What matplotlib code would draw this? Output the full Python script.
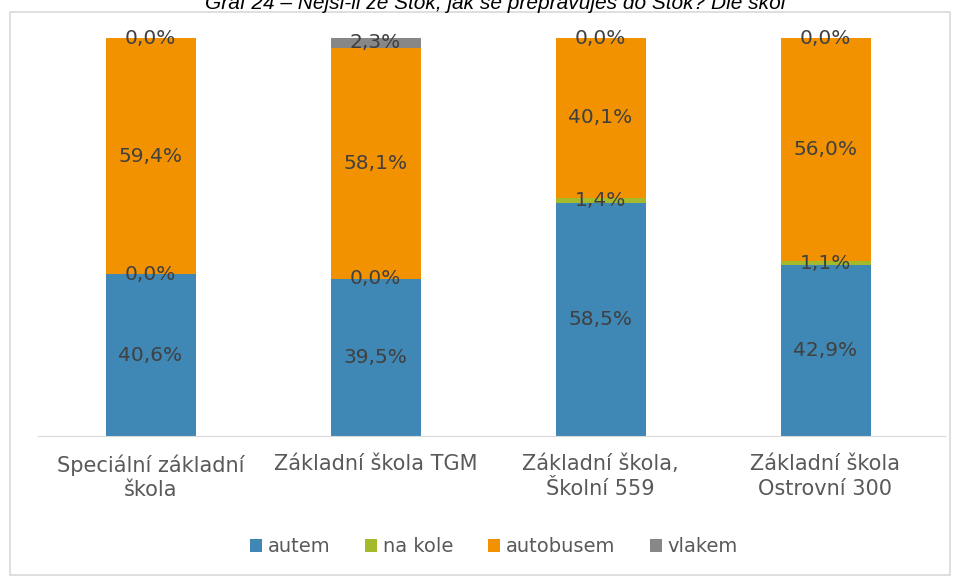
import matplotlib
matplotlib.use("Agg")
import matplotlib.pyplot as plt
from matplotlib.patches import Rectangle
import numpy as np

categories = ["Speciální základní\nškola", "Základní škola TGM", "Základní škola,\nŠkolní 559", "Základní škola\nOstrovní 300"]
series = ["autem", "na kole", "autobusem", "vlakem"]
autem = [40.6, 39.5, 58.5, 42.9]
na_kole = [0.0, 0.0, 1.4, 1.1]
autobusem = [59.4, 58.1, 40.1, 56.0]
vlakem = [0.0, 2.3, 0.0, 0.0]
colors = ["#3F87B4", "#A5BA2A", "#F39200", "#878787"]
title = "Graf 24 – Nejsi-li ze Štok, jak se přepravuješ do Štok? Dle škol"

W, H = 956, 576
fig = plt.figure(figsize=(W/100, H/100), dpi=100)
fig.patch.set_facecolor("white")
ax = fig.add_axes([38/W, 1-436/H, 900/W, 398/H])

fig.patches.append(Rectangle((10/W, 1/H), 940/W, (H-13)/H, transform=fig.transFigure,
                             fill=False, edgecolor="#D9D9D9", linewidth=1.2))

x = np.arange(len(categories))
vals = [autem, na_kole, autobusem, vlakem]
bottom = np.zeros(len(categories))
for name, v, c in zip(series, vals, colors):
    v = np.array(v)
    ax.bar(x, v, 0.4, bottom=bottom, color=c, label=name, zorder=2)
    for xi, b, val in zip(x, bottom, v):
        ax.text(xi, b + val/2, f"{val:.1f}%".replace(".", ","), ha="center", va="center",
                fontsize=14.5, color="#404040", zorder=3)
    bottom += v

ax.set_xlim(-0.5, 3.5)
ax.set_ylim(0, 100)
ax.set_yticks([])
ax.set_xticks(x)
ax.set_xticklabels(categories, fontsize=15, color="#595959", linespacing=1.3)
ax.tick_params(axis="x", length=0, pad=13)
for s in ["top", "right", "left"]:
    ax.spines[s].set_visible(False)
ax.spines["bottom"].set_color("#D9D9D9")
ax.spines["bottom"].set_bounds(-0.5, 3.53)

leg = fig.legend(loc="center", bbox_to_anchor=(494/W, 1-547/H), ncol=4, frameon=False,
                 fontsize=14, handlelength=0.6, handleheight=0.6, handletextpad=0.3,
                 columnspacing=1.8)
for t in leg.get_texts():
    t.set_color("#595959")

fig.text(495/W, 1-9/H, title, ha="center", va="baseline", fontsize=15,
         style="italic", family="Liberation Sans", color="#000000")

fig.savefig("out.png", dpi=100)
